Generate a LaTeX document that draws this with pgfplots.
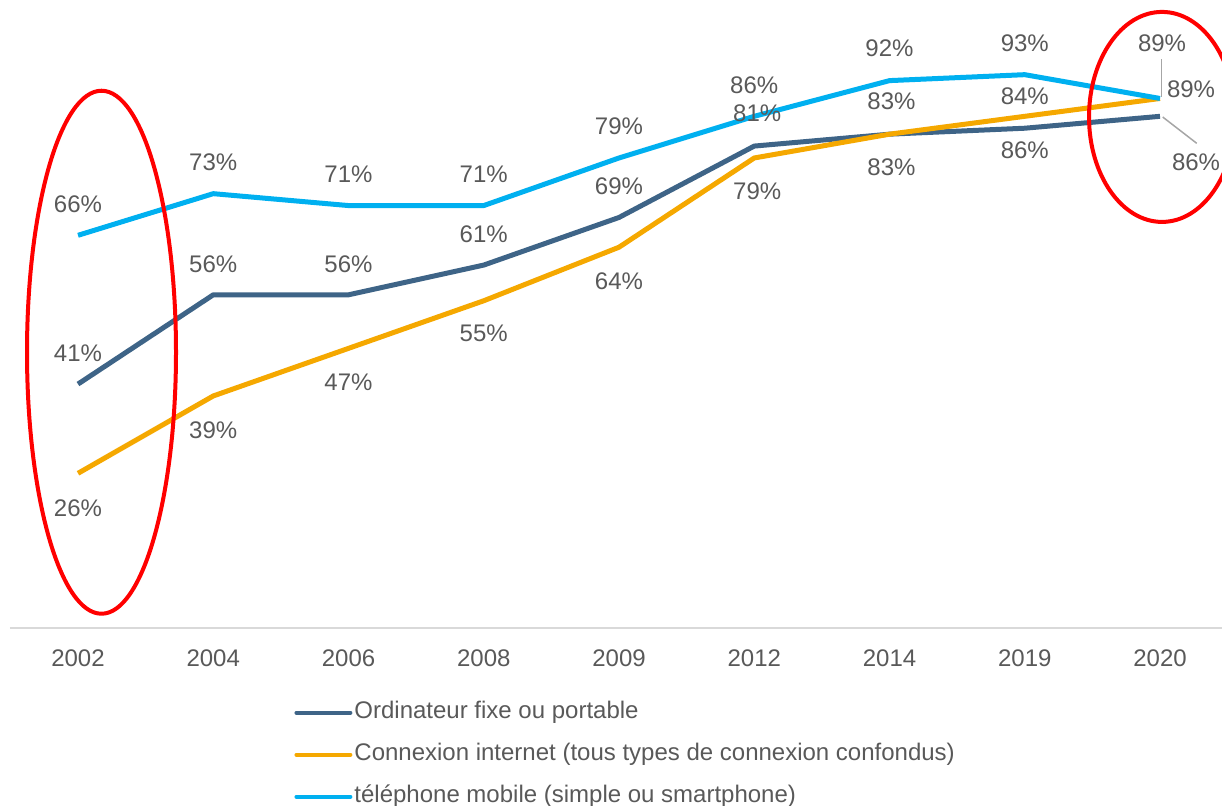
\documentclass[border=0pt]{standalone}
\usepackage{pgfplots}
\pgfplotsset{compat=1.18}
\usepackage{fontspec}
\setmainfont{Liberation Sans}
\definecolor{cOrd}{HTML}{3E6487}
\definecolor{cCon}{HTML}{F5A800}
\definecolor{cMob}{HTML}{00B0F0}
\definecolor{cTxt}{HTML}{595959}
\definecolor{cGrid}{HTML}{D9D9D9}
\definecolor{cLead}{HTML}{A6A6A6}
\begin{document}
\begin{tikzpicture}[font=\fontsize{12pt}{14pt}\selectfont]
\useasboundingbox (-5pt,-88.5pt) rectangle (606pt,314pt);
\begin{axis}[
  at={(0,0)}, anchor=south west, scale only axis,
  width=606pt, height=314pt,
  xmin=-0.5028, xmax=8.4584, ymin=0, ymax=105.55,
  clip=false,
  axis x line*=bottom, hide y axis,
  x axis line style={draw=cGrid, line width=1pt, -},
  xtick={0,1,2,3,4,5,6,7,8},
  xticklabels={2002,2004,2006,2008,2009,2012,2014,2019,2020},
  major tick length=0pt,
  xticklabel style={text=cTxt, yshift=-7.2pt, font=\fontsize{12pt}{14pt}\selectfont},
  legend style={draw=none, fill=none, at={(0.2294,-0.1024)}, anchor=north west,
    legend cell align=left, row sep=5pt, text=cTxt,
    font=\fontsize{12pt}{14pt}\selectfont,
    nodes={inner xsep=1pt, inner ysep=2pt, text height=9pt, text depth=3pt}},
  legend image code/.code={\draw[#1, line width=2pt, line cap=round] (0pt,0pt) -- (27pt,0pt);},
  every axis plot/.append style={line width=2.5pt, line join=round, no markers},
]
\addplot[cOrd] coordinates {(0,41) (1,56) (2,56) (3,61) (4,69) (5,81) (6,83) (7,84) (8,86)};
\addlegendentry{Ordinateur fixe ou portable}
\addplot[cCon] coordinates {(0,26) (1,39) (2,47) (3,55) (4,64) (5,79) (6,83) (7,86) (8,89)};
\addlegendentry{Connexion internet (tous types de connexion confondus)}
\addplot[cMob] coordinates {(0,66) (1,73) (2,71) (3,71) (4,79) (5,86) (6,92) (7,93) (8,89)};
\addlegendentry{téléphone mobile (simple ou smartphone)}

% data labels
\begin{scope}[every node/.style={text=cTxt, font=\fontsize{12pt}{14pt}\selectfont, inner sep=0pt}]
% mobile
\node[yshift=15.5pt] at (axis cs:0,66) {66\%};
\node[yshift=15.5pt] at (axis cs:1,73) {73\%};
\node[yshift=15.5pt] at (axis cs:2,71) {71\%};
\node[yshift=15.5pt] at (axis cs:3,71) {71\%};
\node[yshift=16pt] at (axis cs:4,79) {79\%};
\node[yshift=15.5pt] at (axis cs:5,86) {86\%};
\node[yshift=16pt] at (axis cs:6,92) {92\%};
\node[yshift=15.5pt] at (axis cs:7,93) {93\%};
\node[xshift=1pt, yshift=27.75pt] at (axis cs:8,89) {89\%};
% ordinateur
\node[yshift=15.5pt] at (axis cs:0,41) {41\%};
\node[yshift=15.5pt] at (axis cs:1,56) {56\%};
\node[yshift=15.5pt] at (axis cs:2,56) {56\%};
\node[yshift=15.5pt] at (axis cs:3,61) {61\%};
\node[yshift=15.5pt] at (axis cs:4,69) {69\%};
\node[xshift=1.5pt, yshift=16.5pt] at (axis cs:5,81) {81\%};
\node[xshift=1pt, yshift=16.5pt] at (axis cs:6,83) {83\%};
\node[yshift=16pt] at (axis cs:7,84) {84\%};
\node[xshift=18pt, yshift=-23pt] at (axis cs:8,86) {86\%};
% connexion
\node[yshift=-17.5pt] at (axis cs:0,26) {26\%};
\node[yshift=-17pt] at (axis cs:1,39) {39\%};
\node[yshift=-17pt] at (axis cs:2,47) {47\%};
\node[yshift=-16.5pt] at (axis cs:3,55) {55\%};
\node[yshift=-17pt] at (axis cs:4,64) {64\%};
\node[xshift=1.5pt, yshift=-16.5pt] at (axis cs:5,79) {79\%};
\node[xshift=1pt, yshift=-16.5pt] at (axis cs:6,83) {83\%};
\node[yshift=-17pt] at (axis cs:7,86) {86\%};
\node[xshift=15.5pt, yshift=4.75pt] at (axis cs:8,89) {89\%};
\end{scope}
% leader lines
\draw[cLead, line width=0.75pt] ([xshift=0.85pt, yshift=0.75pt]axis cs:8,89) -- ([xshift=0.85pt, yshift=19.75pt]axis cs:8,89);
\draw[cLead, line width=0.75pt] ([xshift=1.35pt, yshift=-0.35pt]axis cs:8,86) -- ([xshift=18.35pt, yshift=-13.5pt]axis cs:8,86);
% red ellipses
\draw[red, line width=2pt] ([xshift=11.75pt]axis cs:0,46.35) ellipse [x radius=37.25pt, y radius=130.75pt];
\draw[red, line width=2pt] ([xshift=1pt]axis cs:8,85.9) ellipse [x radius=36.5pt, y radius=52.5pt];
\end{axis}
\end{tikzpicture}
\end{document}
